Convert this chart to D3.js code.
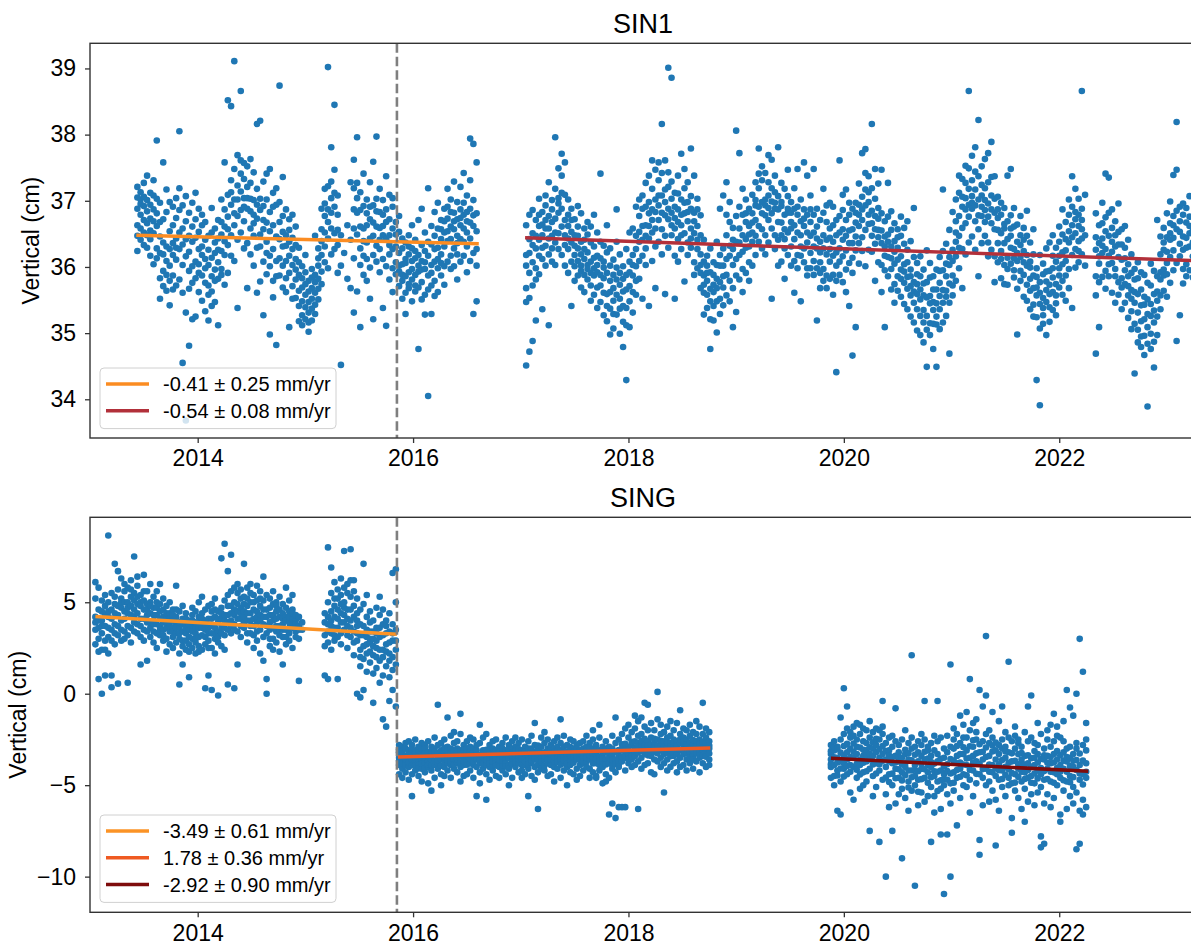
<!DOCTYPE html>
<html><head><meta charset="utf-8">
<script src="https://cdn.jsdelivr.net/npm/d3@7"></script>
<style>
body{margin:0;background:#fff}
svg{display:block}
text{font-family:"Liberation Sans",Arial,Helvetica,sans-serif;fill:#000}
</style>
</head><body><svg id="c" width="1191" height="945"></svg>
<script>
// ---------------- DATA (decimal year, then vertical values in cm) ----------------
const titles = ["SIN1", "SING"];
const xTickYears = [2014, 2016, 2018, 2020, 2022];
const sin1YTicks = [34, 35, 36, 37, 38, 39];
const singYTicks = [-10, -5, 0, 5];
const breakYear = 2015.85;

const sin1SegA = [
[2013.44,36.63,37.21,36.24,36.88,36.47,37.05],[2013.47,37.02,36.41,36.79,37.13,36.58,36.95],[2013.50,36.71,37.27,36.33,36.92,37.06,36.52],
[2013.53,36.48,37.01,36.84,37.38,36.66,36.29],[2013.56,36.42,36.17,37.12,36.73,36.94,36.55],[2013.59,37.31,36.87,36.51,36.04,36.69,37.08],
[2013.62,36.28,37.91,36.62,36.13,37.03,36.81],[2013.65,35.83,36.21,36.97,35.52,36.46,36.68],[2013.68,36.37,35.94,37.58,36.19,36.72,35.71],
[2013.71,36.09,35.64,36.83,36.31,37.17,35.88],[2013.74,35.79,36.54,36.02,36.98,35.42,36.27],[2013.77,36.91,36.18,35.87,36.63,36.36,35.66],
[2013.80,36.43,37.04,35.72,36.11,36.74,36.29],[2013.83,38.05,36.27,35.81,36.86,37.19,36.52],[2013.86,36.58,34.55,35.61,36.03,36.93,36.34],
[2013.89,35.31,36.16,36.69,33.68,37.07,36.42],[2013.92,34.81,35.94,36.47,36.23,36.82,35.67],[2013.95,35.21,36.38,36.97,36.01,36.61,35.76],
[2013.98,36.72,36.08,35.83,37.12,35.25,36.44],[2014.01,36.27,35.62,36.88,36.04,35.91,36.53],[2014.04,35.49,36.18,36.63,35.87,36.79,36.31],
[2014.07,35.98,35.33,35.76,36.41,36.68,36.12],[2014.10,35.72,36.26,35.19,36.03,35.58,36.47],[2014.13,35.86,36.52,35.63,36.14,36.89,35.41],
[2014.16,36.21,35.47,36.58,35.79,36.37,35.96],[2014.19,36.43,35.82,36.07,36.71,35.12,36.26],[2014.22,35.97,36.49,37.02,35.88,36.68,36.24],
[2014.25,36.61,35.73,37.58,36.18,36.87,36.39],[2014.28,38.52,36.33,37.09,36.76,35.91,36.57],[2014.31,38.43,36.94,37.31,36.48,36.17,37.13],
[2014.34,39.11,37.48,36.63,37.02,36.09,36.81],[2014.37,37.23,36.77,37.69,36.41,35.38,37.02],[2014.40,38.66,37.41,36.86,37.14,36.52,37.61],
[2014.43,37.57,36.69,37.04,36.28,37.33,36.91],[2014.46,36.88,37.52,36.36,37.21,35.68,37.04],[2014.49,37.03,36.58,37.63,36.19,37.27,36.84],
[2014.52,36.79,37.43,36.47,36.02,37.01,36.66],[2014.55,38.16,36.73,35.61,37.18,36.29,36.94],[2014.58,38.21,36.49,37.03,35.78,36.86,36.31],
[2014.61,36.57,37.29,36.08,35.27,36.92,36.71],[2014.64,36.38,37.02,35.89,36.67,36.21,37.41],[2014.67,36.17,36.83,37.48,36.01,34.98,36.54],
[2014.70,36.63,35.79,37.12,36.27,36.91,35.54],[2014.73,34.82,36.09,36.94,36.46,37.19,35.86],[2014.76,38.74,36.42,35.87,36.98,36.68,36.13],
[2014.79,36.02,36.77,36.31,37.36,35.69,36.53],[2014.82,36.48,35.62,36.87,36.09,36.32,35.83],[2014.85,35.91,36.38,36.72,35.09,36.17,36.56],
[2014.88,36.27,35.71,36.03,36.79,35.52,36.44],[2014.91,35.53,36.12,36.61,35.81,36.33,35.96],[2014.94,35.41,35.88,36.29,35.18,35.64,36.07],
[2014.97,35.27,35.69,36.01,35.48,35.12,35.83],[2015.00,35.58,35.21,35.92,36.18,35.39,35.74],[2015.03,35.02,35.47,35.79,35.31,35.63,35.16],
[2015.06,35.37,35.19,35.68,35.97,35.52,35.84],[2015.09,35.61,35.88,35.29,36.47,35.77,35.43],[2015.12,35.82,36.13,35.51,36.28,35.67,36.02],
[2015.15,36.18,36.57,35.93,36.88,36.39,35.74],[2015.18,36.52,36.96,36.07,36.77,36.31,37.18],[2015.21,39.02,36.68,37.22,36.43,35.98,36.87],
[2015.24,37.81,37.04,36.58,37.29,36.19,36.82],[2015.27,38.45,36.91,37.47,36.51,37.12,36.27],[2015.30,36.33,36.79,35.91,37.08,36.56],
[2015.33,34.52,36.02,36.48],[2015.36,36.21],[2015.39,36.63,35.82],[2015.42,37.28,36.41,35.68],
[2015.45,37.62,36.87,36.13,35.31,37.19,36.58],[2015.48,37.96,37.27,36.49,36.82,35.63,37.04],[2015.51,36.61,37.13,35.09,36.28,36.03,36.86],
[2015.54,36.92,36.17,37.41,36.58,35.88,36.39],[2015.57,36.37,36.81,35.79,37.02,36.12,36.63],[2015.60,36.72,35.99,37.28,35.52,36.43,36.91],
[2015.63,36.18,36.93,36.47,37.59,35.21,36.67],[2015.66,37.97,36.61,36.08,37.03,36.32,36.84],[2015.69,36.83,36.27,35.92,37.18,36.59,36.41],
[2015.72,36.48,37.01,35.38,36.12,36.79,36.62],[2015.75,36.87,36.42,37.37,36.01,35.11,36.68],[2015.78,36.19,36.72,35.81,37.09,36.48,36.33],
[2015.81,36.58,35.98,36.91,35.62,37.04,36.27],[2015.84,36.31,35.89,36.68,36.07,36.49],[2015.87,36.02,36.53,35.71,36.21,36.77,35.93],
[2015.90,35.79,36.28,35.52,36.04,36.43,35.88],[2015.93,36.12,35.61,36.37,35.86,35.29,36.06],[2015.96,35.68,36.19,35.92,36.48,35.74,36.31],
[2015.99,35.97,35.48,36.28,35.81,36.63,36.09],[2016.02,35.88,36.41,35.63,36.13,35.72,36.24],[2016.05,36.18,35.69,34.76,36.02,36.71,35.93],
[2016.08,35.77,36.33,36.88,35.51,36.09,35.96],[2016.11,36.07,35.58,36.52,35.97,35.28,36.24],[2016.14,34.05,36.38,35.87,37.19,36.17,35.66],
[2016.17,35.72,36.03,36.62,35.29,36.34,35.91],[2016.20,36.27,35.79,36.83,36.08,35.56,36.47],[2016.23,36.58,35.98,35.62,36.97,36.29,36.12],
[2016.26,36.19,36.71,35.87,36.42,36.06,36.57],[2016.29,36.52,36.01,36.88,35.73,36.31,36.69],[2016.32,37.18,36.39,36.73,36.08,36.91,36.54],
[2016.35,36.61,36.17,37.02,36.42,36.83,35.97],[2016.38,36.82,36.28,37.29,36.01,36.57,36.69],[2016.41,36.47,36.98,36.19,36.72,35.81,36.36],
[2016.44,37.21,36.63,36.08,36.87,36.42,36.74],[2016.47,36.38,36.79,37.42,36.17,36.58,36.97],[2016.50,36.69,37.08,36.31,35.92,36.52,36.83],
[2016.53,37.94,36.88,36.43,37.31,36.09,36.67],[2016.56,37.86,36.62,37.01,36.21,35.29,36.78],[2016.59,36.81,36.27,37.58,35.48,36.02,36.54]
];

const sin1SegB = [
[2017.05,34.51,35.68,36.18,36.63,36.02,35.47],[2017.08,34.72,35.91,36.42,36.79,35.53,36.21],[2017.11,34.88,36.07,36.51,35.72,36.33,36.86],
[2017.14,35.19,35.98,36.71,36.28,35.81,36.47],[2017.17,36.17,36.62,35.89,37.03,36.41,36.79],[2017.20,36.48,35.36,36.83,36.12,36.29,36.64],
[2017.23,36.32,36.93,36.02,36.58,37.08,36.71],[2017.26,35.12,36.43,36.77,36.19,37.28,36.58],[2017.29,36.68,36.08,37.01,36.47,36.87,36.28],
[2017.32,37.96,36.37,37.18,36.03,36.73,36.52],[2017.35,37.49,36.82,36.27,37.04,36.51,36.96],[2017.38,37.71,37.38,36.61,36.18,36.88,37.12],
[2017.41,37.58,36.48,37.09,36.02,36.71,36.33],[2017.44,36.79,36.27,35.91,36.62,37.02,36.43],[2017.47,36.53,35.41,36.88,36.08,36.37,36.71],
[2017.50,36.18,36.72,35.79,36.48,36.01,36.32],[2017.53,36.61,36.09,36.92,35.87,36.28,36.47],[2017.56,36.02,36.38,35.69,36.81,36.19,35.94],
[2017.59,36.27,35.88,36.58,36.12,35.62,36.41],[2017.62,35.81,36.49,36.03,36.68,36.22,35.97],[2017.65,36.37,35.72,36.08,35.49,36.61,35.91],
[2017.68,35.98,36.31,35.58,36.79,35.87,36.14],[2017.71,35.69,36.17,35.92,36.52,35.38,36.03],[2017.74,37.41,35.88,36.13,35.47,36.38,35.72],
[2017.77,35.61,35.99,35.27,36.32,35.83,36.08],[2017.80,35.91,35.18,36.22,35.59,36.63,35.41],[2017.83,35.37,35.79,36.02,34.98,36.28,35.62],
[2017.86,35.68,35.07,35.88,36.11,35.49,35.29],[2017.89,35.28,35.81,36.38,35.58,36.87,35.99],[2017.92,34.99,35.52,35.91,36.19,35.37,35.73],
[2017.95,34.79,35.63,35.17,36.01,35.82,35.41],[2017.98,34.29,35.38,35.88,36.27,35.66,35.12],[2018.01,35.09,35.71,36.08,35.48,36.52,35.92],
[2018.04,35.62,36.18,35.87,36.58,35.31,36.03],[2018.07,36.01,36.47,35.58,36.91,36.27,35.79],[2018.10,36.38,35.82,36.77,36.09,37.02,36.53],
[2018.13,36.62,36.17,37.08,35.52,36.88,36.41],[2018.16,36.28,36.91,36.03,37.27,36.63,36.47],[2018.19,36.81,36.43,36.98,35.41,37.38,36.62],
[2018.22,36.52,37.18,36.09,36.87,37.61,36.71],[2018.25,37.02,36.58,37.47,36.31,35.68,36.83],[2018.28,36.93,37.31,36.38,37.58,36.71,37.08],
[2018.31,38.16,37.08,36.57,37.42,36.19,36.82],[2018.34,36.98,36.47,37.61,36.78,35.59,37.17],[2018.37,39.01,36.72,37.21,36.29,36.88,37.43],
[2018.40,38.86,37.03,36.48,36.82,37.29,36.63],[2018.43,36.58,37.12,36.17,36.91,35.52,36.74],[2018.46,36.87,36.42,37.38,36.68,36.08,37.11],
[2018.49,37.71,36.63,37.02,36.27,36.79,36.48],[2018.52,36.51,37.19,36.81,35.78,37.48,36.97],[2018.55,36.98,36.37,37.28,36.69,36.18,36.83],
[2018.58,37.79,36.88,36.29,37.07,36.58,36.43],[2018.61,36.69,37.38,36.07,36.82,35.88,36.51],[2018.64,36.41,36.87,35.98,37.03,36.27,36.62],
[2018.67,36.03,36.48,35.68,36.19,36.78,35.91],[2018.70,35.61,36.08,35.87,35.28,36.41,35.73],[2018.73,35.79,35.38,36.02,35.58,36.17,35.91],
[2018.76,34.76,35.48,35.92,35.67,36.28,35.21],[2018.79,35.19,35.62,35.88,35.41,36.07,35.73],[2018.82,35.01,35.68,36.03,35.48,36.38,35.82],
[2018.85,35.77,35.52,36.18,36.88,35.29,36.02],[2018.88,35.42,36.02,35.69,37.08,36.28,35.86],[2018.91,35.88,36.12,37.28,35.57,36.48,36.79],
[2018.94,36.17,35.79,36.68,36.98,35.48,36.32],[2018.97,35.09,36.03,36.59,36.27,35.68,36.41],[2019.00,38.06,36.38,35.87,36.77,35.32,36.12],
[2019.03,37.72,36.18,35.81,36.58,36.91,36.37],[2019.06,36.48,35.97,36.79,35.62,37.18,36.23],[2019.09,36.29,36.68,35.91,36.42,37.02,36.81],
[2019.12,36.62,36.07,36.88,36.31,35.79,36.49],[2019.15,36.38,36.81,36.02,37.09,36.52,36.67],[2019.18,37.01,36.47,37.28,36.18,36.71,36.93],
[2019.21,37.79,36.91,36.38,37.19,36.62,37.41],[2019.24,37.52,36.98,36.57,36.28,37.31,36.81],[2019.27,36.78,37.42,36.48,37.02,36.19,36.93],
[2019.30,37.69,37.08,36.71,36.37,36.89,37.28],[2019.33,37.62,36.58,37.19,36.81,35.52,36.99],[2019.36,36.97,36.48,37.38,36.27,36.88,37.13],
[2019.39,37.81,36.68,37.07,36.41,36.02,36.87],[2019.42,36.92,37.27,36.48,36.08,36.98,36.67],[2019.45,36.57,37.18,36.28,35.82,36.79,36.42],
[2019.48,37.47,36.82,36.18,36.88,36.52,37.07],[2019.51,36.68,36.31,36.98,36.02,36.58,36.82],[2019.54,36.42,36.88,36.09,37.19,35.61,36.63],
[2019.57,36.79,36.18,37.48,36.52,35.98,36.91],[2019.60,36.48,37.02,36.17,36.69,35.48,36.31],[2019.63,37.58,36.62,36.07,36.87,36.28,36.73],
[2019.66,36.37,35.98,36.79,37.38,35.87,36.52],[2019.69,36.68,36.21,37.08,36.47,35.98,36.87],[2019.72,36.09,36.52,35.88,36.79,37.48,36.31],
[2019.75,36.28,35.19,36.61,35.98,36.88,36.43],[2019.78,35.91,36.38,36.07,35.68,36.71,36.22],[2019.81,36.48,35.97,36.82,35.79,37.18,36.28],
[2019.84,36.19,36.68,35.87,36.41,35.68,36.93],[2019.87,35.82,36.27,36.58,36.97,36.08,36.44],[2019.90,36.38,35.88,36.91,36.17,35.58,36.63],
[2019.93,34.41,36.02,36.48,35.79,36.71,36.22],[2019.96,37.61,36.28,36.77,35.88,36.08,36.52],[2019.99,36.57,37.09,36.16,36.86,35.77,36.41],
[2020.02,35.96,36.47,37.17,36.25,35.62,36.71],[2020.05,35.41,36.36,36.79,36.06,36.97,36.55],[2020.08,34.66,36.57,36.14,36.88,35.91,36.36],
[2020.11,36.25,36.97,36.67,35.09,36.46,36.82],[2020.14,36.79,36.36,37.26,36.05,36.62,36.94],[2020.17,37.72,36.87,36.45,37.06,36.24,36.71],
[2020.20,37.78,37.17,36.56,36.93,36.01,37.42],[2020.23,36.98,36.65,37.37,36.26,36.79,37.13],[2020.26,38.16,36.85,36.47,37.19,36.23,36.66],
[2020.29,37.48,36.77,36.35,37.03,35.79,36.57],[2020.32,36.56,37.26,36.07,36.89,36.45,36.73],[2020.35,37.47,36.36,36.81,36.03,35.62,36.55],
[2020.38,36.17,36.69,35.09,36.46,35.95,36.31],[2020.41,36.49,35.86,37.27,36.15,36.76,36.38],[2020.44,35.97,36.56,35.66,36.31,36.84,36.13],
[2020.47,36.39,35.74,36.05,36.66,35.46,36.23],[2020.50,35.86,36.29,36.57,35.64,36.11,36.45],[2020.53,36.16,35.55,36.47,35.96,36.76,35.82],
[2020.56,35.76,36.35,35.44,36.04,36.59,35.93],[2020.59,36.07,35.67,36.26,35.36,36.69,35.85],[2020.62,35.57,35.96,35.25,36.39,35.86,35.71],
[2020.65,36.89,35.77,35.46,36.15,35.16,35.63],[2020.68,35.36,35.89,35.04,36.06,35.59,35.74],[2020.71,34.97,35.66,36.16,35.26,35.86,35.51],
[2020.74,35.16,35.57,34.86,35.96,35.35,35.75],[2020.77,34.49,35.26,35.77,35.05,36.25,35.54],[2020.80,34.97,35.56,35.15,36.06,35.45,35.84],
[2020.83,34.76,35.35,35.86,35.14,35.66,35.47],[2020.86,34.49,35.25,35.66,35.96,35.45,35.13],[2020.89,35.06,35.76,35.36,36.15,35.56,35.94],
[2020.92,35.46,35.95,35.16,37.17,35.65,36.24],[2020.95,35.26,35.86,36.35,35.55,36.05,35.64],[2020.98,34.69,35.75,36.15,35.46,36.56,36.03],
[2021.01,35.87,36.26,35.57,36.83,36.09,35.72],[2021.04,36.16,36.69,35.79,36.38,37.02,36.52],[2021.07,36.47,37.12,35.98,36.77,37.38,36.29],
[2021.10,36.91,36.27,37.33,36.59,35.68,37.06],[2021.13,37.53,36.66,37.04,36.19,36.87,37.27],[2021.16,38.66,37.18,36.76,37.49,36.37,36.94],
[2021.19,36.97,37.68,36.46,36.88,37.31,37.07],[2021.22,37.81,36.69,37.17,36.26,36.93,37.44],[2021.25,38.22,37.37,36.57,37.02,35.86,36.78],
[2021.28,37.08,36.77,37.52,36.36,36.91,37.24],[2021.31,37.63,36.86,37.19,36.47,37.01,36.68],[2021.34,36.76,37.28,36.37,37.72,36.16,36.96],
[2021.37,37.89,36.66,37.08,36.26,36.87,37.36],[2021.40,36.57,37.03,36.16,37.37,35.77,36.82],[2021.43,36.87,36.36,37.06,36.07,36.56,36.74],
[2021.46,36.24,36.79,35.83,36.51,36.97,36.12],[2021.49,36.58,36.03,36.89,35.74,36.36,36.65],[2021.52,37.38,36.14,36.69,35.97,35.73,36.42],
[2021.55,37.48,36.47,36.05,36.78,36.29,36.58],[2021.58,35.95,36.61,35.84,36.27,36.89,36.13],[2021.61,36.38,34.98,36.64,36.09,35.67,36.21],
[2021.64,36.15,36.77,35.79,36.48,35.94,36.33],[2021.67,35.88,36.24,36.59,35.55,36.07,36.41],[2021.70,36.47,35.73,36.18,36.85,35.49,36.02],
[2021.73,35.99,36.37,35.64,36.08,35.36,35.82],[2021.76,35.68,36.19,35.43,35.87,36.57,35.25],[2021.79,34.29,35.57,35.98,35.24,35.85,35.69],
[2021.82,33.91,35.44,35.77,35.07,36.18,35.61],[2021.85,35.27,35.89,35.53,36.05,35.38,35.14],[2021.88,34.97,35.65,36.28,35.47,35.93,35.78],
[2021.91,35.59,35.17,35.94,35.73,36.37,35.39],[2021.94,35.84,35.35,36.17,35.62,36.48,35.98],[2021.97,35.45,36.08,35.74,36.29,35.27,35.57],
[2022.00,35.98,35.69,36.38,35.87,36.61,36.17],[2022.03,35.79,36.22,35.58,36.49,36.87,36.04],[2022.06,36.09,35.87,36.42,36.68,35.49,36.25],
[2022.09,36.37,35.97,36.79,35.68,37.02,36.54],[2022.12,36.63,36.18,35.38,36.91,37.37,36.45],[2022.15,36.27,36.72,35.99,37.18,36.51,36.83],
[2022.18,36.79,36.39,37.03,36.07,36.62,36.24],[2022.21,38.66,36.57,36.19,36.88,36.43,36.71],[2022.24,36.48,37.09,36.02],
[2022.34,35.57,36.26,36.81,35.86,34.69,36.45],[2022.37,36.05,36.63,35.09,36.36,35.77,36.16],[2022.40,36.43,35.85,36.97,36.21,36.66,36.32],
[2022.43,37.41,35.94,36.54,35.67,36.27,36.75],[2022.46,36.17,36.82,35.86,37.35,36.47,36.04],[2022.49,36.59,36.06,35.61,36.38,36.87,36.23],
[2022.52,35.86,36.31,35.46,36.69,35.97,36.48],[2022.55,36.15,35.77,36.53,35.58,36.96,36.34],[2022.58,35.69,36.34,35.83,36.11,35.36,36.57],
[2022.61,35.95,35.46,36.29,35.74,36.62,36.13],[2022.64,35.57,36.04,35.23,35.86,36.41,35.71],[2022.67,35.33,35.91,35.06,36.19,35.65,35.52],
[2022.70,34.39,35.46,35.81,35.14,35.97,35.62],[2022.73,35.05,35.59,34.86,36.07,35.31,35.83],[2022.76,35.42,34.79,35.66,34.95,35.92,35.18],
[2022.79,34.67,35.21,35.55,35.88,34.96,35.43],[2022.82,33.89,35.09,34.84,35.51,35.76,35.29],[2022.85,34.76,35.26,35.72,34.99,36.05,35.44],
[2022.88,34.48,35.16,35.59,35.34,35.94,34.87],[2022.91,34.97,35.49,35.86,36.71,35.25,35.63],[2022.94,35.36,35.81,36.19,35.57,36.46,35.92],
[2022.97,35.87,36.26,35.64,36.59,35.96,36.37],[2023.00,36.06,35.55,36.45,36.81,35.89,36.23],[2023.03,36.41,35.76,36.66,36.15,36.99,36.51],
[2023.06,37.39,36.25,35.95,36.77,36.44,36.63],[2023.09,38.19,36.57,36.06,37.47,34.88,36.85],[2023.12,36.35,36.91,36.16,35.27,36.69,36.53],
[2023.15,35.97,36.46,36.79,35.75,36.96,36.26],[2023.18,36.29,36.67,36.04,36.89,35.86,36.44],[2023.21,36.51,35.95,36.76,36.31,37.07,36.62],
[2023.24,36.16,36.59,35.84,36.37]
];

const singSegA = [
[2013.05,6.1,3.5,2.7,4.2,3.9,5.2],[2013.08,5.8,4.0,3.0,0.8,4.6,2.3,3.6],[2013.11,3.3,4.5,2.4,5.1,0.0,4.0,3.7],[2013.14,4.8,3.7,1.0,5.4,2.9,4.3,2.4],
[2013.17,8.65,4.2,3.1,5.0,2.2,3.6,4.5],[2013.20,1.0,4.6,3.5,5.5,0.35,4.1,2.9],[2013.23,7.1,4.9,3.8,2.7,5.3,4.4,3.3],[2013.26,6.7,4.3,5.7,3.2,0.55,4.8,3.7],
[2013.29,5.2,4.0,6.3,2.9,4.7,3.5,5.0],[2013.32,4.5,5.6,3.4,6.0,4.1,5.0,3.0],[2013.35,3.7,5.0,4.4,0.6,5.8,4.7,3.2],[2013.38,5.3,4.8,3.6,6.2,2.8,4.3,5.7],
[2013.41,7.5,4.6,5.5,3.9,4.2,3.4,5.1],[2013.44,4.9,3.3,5.9,4.4,6.4,3.8,5.3],[2013.47,5.4,4.1,1.6,3.7,4.8,5.0,3.1],[2013.50,6.5,4.6,3.5,5.1,2.9,4.1,5.6],
[2013.53,4.3,5.6,3.9,1.8,4.9,3.4,4.6],[2013.56,5.0,3.6,4.4,6.0,3.1,4.8,3.9],[2013.59,4.7,3.4,5.3,2.8,4.0,4.3,3.8],[2013.62,3.8,5.0,4.3,2.5,5.6,3.3,4.7],
[2013.65,4.5,3.2,4.9,3.7,6.0,4.1,3.5],[2013.68,3.9,4.6,2.9,5.2,3.5,4.2,3.2],[2013.71,4.2,3.0,4.8,3.6,2.3,3.9,4.4],[2013.74,3.4,4.4,2.7,5.0,3.9,3.7,4.1],
[2013.77,4.0,3.1,4.6,2.5,3.6,3.4,4.3],[2013.80,3.3,4.2,2.8,5.9,3.8,3.6,4.6],[2013.83,3.0,4.5,2.2,3.6,0.5,3.9,3.3],[2013.86,4.1,2.6,3.4,4.8,1.6,3.8,2.9],
[2013.89,2.9,3.8,4.4,2.4,3.3,3.6,4.1],[2013.92,3.5,2.7,4.0,0.9,3.1,3.8,2.3],[2013.95,4.3,3.0,2.5,3.7,4.7,3.4,4.0],[2013.98,2.8,3.9,3.3,4.5,2.2,3.6,3.0],
[2014.01,3.6,4.2,2.6,3.1,5.0,3.9,2.3],[2014.04,4.4,3.2,2.4,3.9,5.3,3.6,4.1],[2014.07,2.7,4.0,0.3,3.5,4.6,3.1,3.8],[2014.10,3.3,4.8,2.9,4.1,1.0,3.6,2.5],
[2014.13,4.5,2.5,3.7,0.2,4.9,3.3,4.1],[2014.16,3.0,4.2,3.6,2.2,5.2,4.6,3.3],[2014.19,3.9,-0.1,4.5,2.8,3.4,4.1,3.1],[2014.22,7.4,3.6,4.7,2.6,4.1,3.3,4.4],
[2014.25,8.2,4.3,3.2,5.1,2.4,4.0,3.6],[2014.28,6.7,4.8,3.5,5.4,0.5,4.3,3.9],[2014.31,7.6,4.0,5.6,3.3,4.4,4.8,3.7],[2014.34,5.0,3.8,5.8,0.3,4.6,4.3,3.5],
[2014.37,4.5,5.5,3.4,6.0,1.6,4.9,4.1],[2014.40,5.2,4.1,3.1,5.7,4.7,3.7,4.4],[2014.43,7.1,4.9,3.6,5.3,4.2,4.5,3.9],[2014.46,4.4,5.8,3.3,4.8,2.8,4.0,5.2],
[2014.49,5.5,4.0,6.0,3.7,5.0,4.4,3.3],[2014.52,4.6,3.2,5.4,4.1,2.5,5.0,3.7],[2014.55,5.1,3.9,4.5,2.9,5.9,4.2,3.4],[2014.58,4.3,5.6,3.5,4.8,2.2,4.0,5.2],
[2014.61,6.4,3.8,4.6,1.8,5.1,4.2,3.1],[2014.64,0.0,4.2,3.3,5.4,0.8,3.7,4.6],[2014.67,4.7,3.0,5.2,2.6,3.9,4.3,3.5],[2014.70,3.6,4.9,2.4,4.3,5.6,4.0,3.0],
[2014.73,4.1,3.4,5.0,2.8,4.5,3.7,4.8],[2014.76,3.7,4.6,2.3,5.3,3.2,4.2,3.5],[2014.79,4.4,3.1,4.9,1.6,3.8,4.1,3.5],[2014.82,5.8,3.5,4.2,2.7,4.7,4.0,3.1],
[2014.85,3.9,4.5,2.9,5.1,3.3,4.2,3.6],[2014.88,4.6,3.6,5.4,2.5,4.1,3.9,4.4],[2014.91,3.4,4.0,3.1,4.3,3.8],[2014.94,3.7,0.7,4.2,3.0,3.5],
[2014.97,3.5,3.9],
[2015.18,1.0,3.2,4.4,2.6,3.9],[2015.21,8.0,3.8,2.8,5.0,0.8,4.2,3.4],[2015.24,6.9,4.5,3.3,5.5,2.4,4.0,3.7],[2015.27,5.2,3.6,4.8,2.9,6.1,4.2,3.2],
[2015.30,4.1,5.7,3.1,4.6,0.8,3.6,5.2],[2015.33,5.4,3.9,6.3,2.7,4.9,4.4,3.3],[2015.36,7.8,5.0,3.5,5.8,4.3,4.7,3.9],[2015.39,6.0,4.6,5.5,3.2,2.5,4.1,3.7],
[2015.42,7.9,5.3,4.0,6.2,3.6,4.6,3.1],[2015.45,6.2,4.8,3.4,5.6,2.1,4.2,2.8],[2015.48,0.0,4.4,2.9,5.2,3.7,3.3,4.0],[2015.51,-0.2,3.8,2.4,4.6,1.5,3.2,2.0],
[2015.54,7.1,3.2,4.9,1.9,0.2,3.7,2.6],[2015.57,4.2,2.7,5.4,3.5,1.2,3.1,2.2],[2015.60,3.0,4.5,1.7,3.9,2.3,3.4,2.8],[2015.63,2.6,4.0,1.1,3.4,-0.5,2.1,3.0],
[2015.66,3.6,2.0,4.7,1.4,2.9,3.3,2.5],[2015.69,5.3,3.1,1.8,4.3,0.6,3.6,2.4],[2015.72,2.4,3.8,1.0,4.6,-1.4,3.2,2.0],[2015.75,4.0,1.5,3.3,-1.8,2.7,2.3,3.7],
[2015.78,3.4,0.9,2.2,4.4,-0.4,2.8,1.8],[2015.81,6.6,2.9,1.3,3.8,0.2,3.3,2.0],[2015.84,6.8,3.5,-0.7,2.4,5.0,1.6,2.9]
];

const singSegB = [
[2015.87,-3.2,-3.9,-2.8,-4.4,-3.5,-3.05,-3.67],[2015.90,-3.6,-2.9,-4.1,-3.3,-4.6,-3.82,-3.14],[2015.93,-3.0,-3.8,-4.3,-2.7,-3.4,-3.57,-3.93],
[2015.96,-3.5,-4.0,-3.1,-4.7,-2.6,-3.28,-3.76],[2015.99,-3.9,-3.3,-4.4,-2.8,-5.6,-3.61,-3.07],[2016.02,-3.1,-3.7,-2.5,-4.2,-3.4,-3.92,-3.23],
[2016.05,-4.5,-3.6,-2.9,-3.9,-3.2,-3.45,-4.08],[2016.08,-3.3,-4.1,-2.7,-3.6,-4.8,-3.83,-3.02],[2016.11,-2.8,-3.5,-4.3,-3.0,-3.8,-3.27,-4.06],
[2016.14,-3.7,-4.9,-3.2,-2.6,-4.0,-3.46,-3.88],[2016.17,-5.3,-3.4,-4.2,-2.9,-3.6,-3.13,-3.91],[2016.20,-3.0,-3.9,-4.6,-3.3,-2.4,-3.68,-3.19],
[2016.23,-0.6,-3.5,-4.1,-2.8,-3.8,-3.24,-3.63],[2016.26,-3.6,-2.7,-4.4,-3.1,-5.0,-3.37,-3.94],[2016.29,-3.2,-4.0,-2.5,-3.7,-4.5,-3.46,-2.96],
[2016.32,-2.9,-3.4,-1.3,-4.2,-3.8,-3.62,-3.13],[2016.35,-3.5,-4.6,-3.0,-2.3,-3.9,-3.27,-3.74],[2016.38,-4.1,-3.3,-2.1,-2.7,-3.6,-3.86,-3.08],
[2016.41,-3.0,-3.8,-4.3,-2.6,-3.4,-3.58,-3.17],[2016.44,-1.1,-4.8,-3.1,-2.2,-4.0,-3.43,-3.76],[2016.47,-3.3,-2.8,-3.9,-4.5,-3.5,-3.07,-3.69],
[2016.50,-4.4,-3.7,-2.6,-3.0,-3.2,-3.88,-3.41],[2016.53,-2.4,-3.4,-4.2,-2.9,-3.8,-3.16,-3.57],[2016.56,-3.9,-3.0,-4.6,-2.5,-3.5,-3.26,-3.72],
[2016.59,-5.6,-3.6,-4.0,-2.8,-3.3,-3.47,-3.09],[2016.62,-1.7,-4.3,-2.7,-3.8,-4.9,-3.34,-3.61],[2016.65,-3.7,-2.4,-4.1,-3.1,-3.5,-3.86,-3.28],
[2016.68,-5.8,-3.9,-4.4,-3.4,-2.2,-3.07,-3.63],[2016.71,-4.0,-3.3,-2.8,-4.7,-3.6,-3.14,-3.82],[2016.74,-3.5,-2.6,-4.2,-3.0,-3.9,-3.36,-3.71],
[2016.77,-3.1,-4.5,-3.7,-2.5,-3.3,-3.52,-3.93],[2016.80,-3.8,-2.9,-4.0,-3.4,-4.6,-3.17,-3.59],[2016.83,-3.3,-4.2,-2.7,-3.9,-3.0,-3.48,-3.66],
[2016.86,-2.4,-3.6,-4.4,-3.1,-3.8,-3.29,-3.97],[2016.89,-3.9,-3.2,-2.8,-4.1,-5.0,-3.51,-3.06],[2016.92,-3.4,-4.6,-3.0,-2.6,-3.7,-3.23,-3.86],
[2016.95,-2.4,-3.5,-4.0,-2.9,-3.3,-3.74,-3.12],[2016.98,-3.8,-2.7,-4.3,-3.2,-3.6,-3.41,-3.03],[2017.01,-4.6,-3.1,-3.9,-2.5,-4.2,-3.56,-3.27],
[2017.04,-3.6,-4.4,-2.9,-3.3,-3.9,-3.18,-3.73],[2017.07,-5.6,-3.4,-4.1,-2.6,-3.0,-3.62,-3.84],[2017.10,-3.0,-3.8,-2.3,-4.5,-3.5,-3.26,-3.67],
[2017.13,-1.6,-2.8,-4.0,-3.2,-4.7,-3.43,-3.58],[2017.16,-6.3,-3.3,-3.9,-4.3,-3.0,-3.66,-2.84],[2017.19,-3.9,-2.9,-3.5,-2.4,-4.1,-3.22,-3.74],
[2017.22,-2.1,-3.2,-4.2,-2.7,-3.6,-3.41,-3.93],[2017.25,-3.5,-4.5,-3.0,-3.8,-2.5,-3.27,-3.61],[2017.28,-2.8,-3.6,-4.4,-3.1,-3.9,-3.34,-2.97],
[2017.31,-4.0,-3.0,-2.6,-3.7,-4.8,-3.46,-3.19],[2017.34,-3.3,-2.4,-4.1,-3.5,-2.9,-3.73,-3.12],[2017.37,-1.4,-4.6,-3.1,-2.7,-3.4,-3.58,-3.88],
[2017.40,-2.9,-3.8,-4.2,-3.2,-2.3,-3.47,-3.64],[2017.43,-3.4,-4.0,-2.8,-3.6,-5.0,-3.16,-3.83],[2017.46,-4.3,-3.1,-3.7,-2.5,-3.9,-3.36,-2.92],
[2017.49,-3.0,-3.5,-2.6,-4.4,-3.3,-3.77,-3.18],[2017.52,-3.6,-4.1,-3.2,-2.8,-4.7,-3.42,-3.03],[2017.55,-2.7,-3.9,-3.4,-4.5,-3.1,-3.63,-3.26],
[2017.58,-3.8,-3.0,-4.2,-2.6,-3.5,-3.24,-3.71],[2017.61,-2.3,-3.3,-4.0,-2.9,-3.7,-3.52,-3.14],[2017.64,-3.2,-4.6,-2.7,-3.6,-4.1,-3.38,-2.94],
[2017.67,-2.0,-3.5,-2.5,-4.3,-3.0,-3.27,-3.81],[2017.70,-4.6,-3.8,-2.8,-4.5,-3.3,-3.06,-3.57],[2017.73,-1.7,-3.1,-3.9,-2.4,-4.2,-3.46,-3.68],
[2017.76,-4.0,-3.4,-4.9,-2.9,-3.7,-3.18,-3.56],[2017.79,-3.6,-4.8,-2.6,-4.4,-3.2,-3.87,-3.03],[2017.82,-6.6,-3.8,-2.9,-3.3,-4.6,-3.52,-3.14],
[2017.85,-6.0,-2.3,-4.1,-3.0,-3.9,-3.36,-3.62],[2017.88,-1.3,-6.8,-2.7,-3.6,-4.3,-3.17,-3.84],[2017.91,-6.2,-3.9,-2.5,-4.0,-3.4,-3.08,-3.66],
[2017.94,-3.1,-3.0,-2.2,-3.7,-6.2,-3.43,-2.76],[2017.97,-6.2,-3.5,-1.9,-4.2,-3.1,-2.74,-3.38],[2018.00,-3.3,-2.4,-3.8,-1.7,-2.9,-3.06,-3.57],
[2018.03,-2.1,-3.6,-2.8,-4.0,-3.2,-2.63,-3.41],[2018.06,-1.2,-2.6,-3.4,-1.9,-3.9,-2.97,-3.18],[2018.09,-6.3,-2.3,-3.7,-1.5,-2.7,-3.22,-2.88],
[2018.12,-1.3,-2.9,-3.5,-2.2,-4.1,-3.12,-2.58],[2018.15,-0.5,-3.3,-1.8,-3.9,-2.8,-2.46,-3.07],[2018.18,-0.6,-2.0,-3.1,-3.8,-2.6,-3.37,-2.83],
[2018.21,-3.4,-2.4,-1.6,-3.0,-4.3,-2.78,-3.16],[2018.24,-2.7,-3.6,-2.0,-4.4,-3.2,-2.47,-2.93],[2018.27,0.1,-3.0,-2.5,-3.7,-1.4,-2.84,-3.26],
[2018.30,-3.5,-2.2,-4.0,-2.8,-1.7,-3.08,-2.57],[2018.33,-5.4,-2.6,-3.3,-2.1,-3.8,-2.92,-3.14],[2018.36,-2.9,-3.6,-1.8,-2.4,-4.2,-3.23,-2.68],
[2018.39,-2.3,-3.1,-4.0,-2.7,-1.5,-3.42,-2.87],[2018.42,-3.4,-2.0,-2.9,-3.8,-2.5,-3.13,-2.66],[2018.45,-2.6,-3.7,-1.6,-3.0,-4.3,-2.83,-3.31],
[2018.48,-0.9,-2.2,-3.5,-2.7,-4.0,-3.07,-2.49],[2018.51,-1.9,-2.8,-3.9,-2.4,-3.3,-3.04,-2.61],[2018.54,-2.5,-3.6,-2.0,-4.2,-3.0,-2.76,-3.27],
[2018.57,-3.2,-1.7,-2.7,-3.8,-2.3,-2.96,-3.47],[2018.60,-2.8,-3.4,-2.1,-4.1,-3.6,-2.53,-3.11],[2018.63,-2.2,-3.0,-1.5,-3.7,-2.6,-3.24,-2.87],
[2018.66,-3.5,-2.5,-4.3,-1.8,-3.1,-2.74,-3.36],[2018.69,-0.5,-2.9,-3.8,-2.2,-3.4,-3.06,-2.63],[2018.72,-2.4,-3.2,-1.9,-4.0,-2.7,-2.98,-3.44],
[2018.75,-3.0,-2.1,-3.6,-2.6,-3.9,-3.27,-2.84]
];

const singSegC = [
[2019.88,-3.3,-2.8,-4.0,-3.6,-4.6,-3.14,-3.85],[2019.91,-2.6,-3.9,-3.1,-4.5,-5.0,-3.47,-2.93],[2019.94,-6.4,-3.5,-2.9,-4.2,-3.0,-3.76,-4.47],
[2019.97,-1.3,-6.6,-3.7,-2.5,-4.8,-3.22,-4.09],[2020.00,0.3,-3.4,-2.2,-4.1,-3.8,-2.86,-4.53],[2020.03,-0.7,-3.2,-1.9,-4.4,-3.6,-2.74,-3.95],
[2020.06,-3.9,-2.4,-3.0,-5.4,-2.1,-3.46,-4.27],[2020.09,-2.3,-3.5,-1.8,-4.0,-5.8,-3.17,-2.72],[2020.12,-2.9,-1.6,-3.3,-4.6,-2.5,-3.83,-4.16],
[2020.15,-3.6,-2.2,-1.7,-3.9,-5.2,-2.94,-4.41],[2020.18,-2.6,-3.4,-1.9,-4.3,-5.0,-3.07,-3.77],[2020.21,-2.0,-3.1,-4.8,-2.7,-3.7,-3.36,-4.24],
[2020.24,-7.5,-2.4,-3.6,-1.5,-4.1,-2.93,-3.28],[2020.27,-3.0,-2.1,-4.5,-3.4,-5.6,-2.66,-3.87],[2020.30,-2.8,-3.8,-1.9,-5.1,-3.2,-4.36,-2.47],
[2020.33,-8.1,-2.5,-4.2,-3.5,-2.0,-3.04,-3.86],[2020.36,-0.4,-2.2,-3.3,-4.7,-1.8,-3.67,-2.86],[2020.39,-10.0,-2.7,-3.6,-5.5,-4.0,-3.13,-4.58],
[2020.42,-3.1,-2.4,-4.4,-3.7,-6.2,-3.38,-4.83],[2020.45,-7.5,-2.9,-3.8,-5.0,-2.3,-3.46,-4.37],[2020.48,-0.8,-3.4,-2.6,-4.1,-6.0,-3.76,-4.62],
[2020.51,-3.7,-2.8,-4.6,-3.2,-5.5,-4.13,-3.47],[2020.54,-9.0,-3.5,-4.3,-2.5,-5.2,-3.86,-4.74],[2020.57,-2.0,-3.3,-4.0,-5.7,-3.8,-4.46,-3.07],
[2020.60,-3.6,-2.7,-4.8,-6.4,-4.2,-3.26,-5.13],[2020.63,2.1,-3.0,-4.2,-2.4,-5.3,-3.64,-4.57],[2020.66,-10.5,-3.9,-4.5,-2.9,-5.0,-3.34,-4.16],
[2020.69,-3.2,-4.7,-3.7,-2.6,-6.1,-4.24,-5.36],[2020.72,-2.2,-4.1,-3.4,-5.4,-2.8,-3.83,-4.67],[2020.75,-0.4,-3.6,-4.6,-2.5,-5.9,-4.13,-3.17],
[2020.78,-3.1,-3.9,-4.3,-2.9,-5.6,-4.87,-3.54],[2020.81,-8.1,-3.4,-5.1,-2.7,-4.0,-3.73,-4.56],[2020.84,-4.5,-3.1,-5.6,-2.3,-6.5,-3.82,-4.24],
[2020.87,-0.4,-3.7,-2.6,-4.8,-3.3,-4.27,-5.32],[2020.90,-7.7,-5.2,-2.4,-4.2,-6.3,-3.56,-4.73],[2020.93,-10.95,-4.4,-3.5,-5.0,-3.0,-3.96,-4.67],
[2020.96,-7.7,-3.2,-5.5,-2.3,-4.7,-3.86,-4.23],[2020.99,1.6,-10.0,-4.9,-2.9,-6.0,-3.57,-4.36],[2021.02,-1.9,-3.0,-4.3,-2.5,-5.3,-3.66,-4.87],
[2021.05,-7.2,-3.8,-2.2,-4.6,-3.4,-4.17,-2.86],[2021.08,-1.2,-2.7,-4.1,-5.7,-3.3,-3.76,-4.54],[2021.11,-2.4,-3.3,-1.7,-4.4,-5.0,-3.87,-2.93],
[2021.14,-1.0,-2.4,-3.9,-5.1,-3.1,-3.54,-4.46],[2021.17,0.8,-3.5,-2.0,-4.7,-6.5,-2.87,-4.16],[2021.20,-2.9,-1.6,-4.2,-3.4,-5.6,-3.76,-2.54],
[2021.23,-1.4,-2.5,-3.7,-4.9,-2.1,-3.26,-4.38],[2021.26,0.2,-8.8,-8.0,-4.4,-3.2,-2.76,-3.83],[2021.29,-0.7,-3.6,-2.6,-4.6,-6.1,-3.17,-4.12],
[2021.32,3.15,-0.1,-4.1,-2.2,-5.0,-3.46,-2.94],[2021.35,-2.0,-3.4,-4.8,-2.7,-5.9,-3.87,-4.26],[2021.38,-1.0,-3.9,-2.4,-5.3,-4.3,-3.16,-2.83],
[2021.41,-8.3,-4.5,-3.1,-5.8,-3.6,-4.07,-2.67],[2021.44,-1.5,-3.3,-4.7,-2.8,-6.4,-3.86,-4.18],[2021.47,-0.7,-2.5,-5.1,-4.2,-3.0,-3.63,-4.66],
[2021.50,-2.1,-4.0,-2.9,-5.6,-3.5,-4.43,-3.16],[2021.53,1.75,-3.2,-4.6,-2.4,-5.0,-3.77,-4.13],[2021.56,-7.6,-3.7,-2.6,-4.9,-6.8,-3.26,-4.34],
[2021.59,-1.8,-3.0,-4.4,-5.3,-2.3,-3.67,-4.86],[2021.62,-2.5,-4.1,-3.3,-2.7,-5.7,-3.86,-4.54],[2021.65,-3.8,-3.6,-4.8,-2.9,-6.3,-4.27,-3.24],
[2021.68,-2.1,-4.3,-3.4,-5.2,-7.0,-3.87,-4.66],[2021.71,-0.7,-3.8,-4.6,-2.6,-5.9,-4.17,-3.36],[2021.74,-0.1,-4.0,-2.4,-5.5,-4.5,-3.53,-4.87],
[2021.77,-2.7,-3.5,-4.9,-6.1,-3.9,-4.36,-3.13],[2021.80,-1.6,-4.2,-3.3,-2.8,-5.4,-3.76,-4.63],[2021.83,-8.4,-7.8,-4.4,-2.2,-5.1,-3.57,-4.06],
[2021.86,-8.2,-3.0,-4.7,-3.6,-6.0,-4.23,-3.37],[2021.89,-2.0,-2.5,-4.1,-3.4,-5.5,-3.77,-4.66],[2021.92,-1.7,-2.9,-3.8,-4.8,-6.2,-4.27,-3.46],
[2021.95,-1.1,-3.3,-4.3,-5.7,-2.6,-3.76,-4.87],[2021.98,-2.3,-1.8,-3.6,-5.0,-4.4,-3.13,-4.06],[2022.01,-7.0,-2.4,-3.9,-4.6,-6.6,-3.37,-4.27],
[2022.04,-1.5,-3.2,-2.6,-5.3,-4.1,-3.66,-4.73],[2022.07,0.2,-3.7,-4.8,-6.3,-3.0,-4.26,-3.46],[2022.10,-0.75,-2.9,-4.5,-3.5,-5.6,-3.96,-4.84],
[2022.13,-1.2,-3.3,-5.1,-4.0,-6.0,-3.67,-4.56],[2022.16,0.0,-8.5,-3.0,-5.4,-2.7,-4.17,-3.63],[2022.19,3.0,-8.2,-4.7,-6.4,-3.9,-4.36,-3.27],
[2022.22,1.2,-6.6,-5.8,-4.4,-2.8,-3.66,-4.96],[2022.25,-3.1,-4.6,-2.5,-6.2,-3.8,-1.6,-4.27]
];

// linear fits: [startYear, endYear, startValue, endValue]
const sin1Fits = [[2013.43, 2016.61, 36.48, 36.35], [2017.04, 2023.35, 36.44, 36.09]];
const singFits = [[2013.05, 2015.85, 4.22, 3.25], [2015.86, 2018.76, -3.46, -2.97], [2019.88, 2022.27, -3.53, -4.24]];
const sin1Labels = ["-0.41 \u00b1 0.25 mm/yr", "-0.54 \u00b1 0.08 mm/yr"];
const singLabels = ["-3.49 \u00b1 0.61 mm/yr", "1.78 \u00b1 0.36 mm/yr", "-2.92 \u00b1 0.90 mm/yr"];
const sin1Colors = ["#fb8c22", "#b2303a"];
const singColors = ["#fb9326", "#ef5a22", "#7e0c0c"];

// ---------------- DRAW ----------------
const svg = d3.select("#c");
const pointColor = "#1f77b4";
const plotLeft = 90, plotRight = 1196;

function flatten(rows){ return rows.flatMap(r => r.slice(1).map(v => ({t: r[0], v}))); }

function drawPanel(cfg, idx){
  const x = d3.scaleLinear().domain([2013.0, 2023.27]).range([plotLeft, plotRight]);
  const y = d3.scaleLinear().domain(cfg.yDomain).range([cfg.bottom, cfg.top]);
  const g = svg.append("g");
  const clipId = "clip" + idx;
  g.append("clipPath").attr("id", clipId).append("rect")
    .attr("x", plotLeft).attr("y", cfg.top).attr("width", plotRight - plotLeft).attr("height", cfg.bottom - cfg.top);
  g.append("rect").attr("x", plotLeft).attr("y", cfg.top).attr("width", plotRight - plotLeft).attr("height", cfg.bottom - cfg.top)
    .attr("fill", "#fff");

  const inner = g.append("g").attr("clip-path", `url(#${clipId})`);
  const pts = cfg.segments.flatMap(flatten);
  inner.selectAll("circle").data(pts).enter().append("circle")
    .attr("cx", d => x(d.t)).attr("cy", d => y(d.v)).attr("r", 3.3).attr("fill", pointColor);

  cfg.fits.forEach((f, i) => {
    inner.append("line").attr("x1", x(f[0])).attr("x2", x(f[1])).attr("y1", y(f[2])).attr("y2", y(f[3]))
      .attr("stroke", cfg.colors[i]).attr("stroke-width", 3.5);
  });
  inner.append("line").attr("x1", x(breakYear)).attr("x2", x(breakYear)).attr("y1", cfg.top).attr("y2", cfg.bottom)
    .attr("stroke", "#7f7f7f").attr("stroke-width", 2.6).attr("stroke-dasharray", "9.5,4");

  g.append("rect").attr("x", plotLeft).attr("y", cfg.top).attr("width", plotRight - plotLeft).attr("height", cfg.bottom - cfg.top)
    .attr("fill", "none").attr("stroke", "#333").attr("stroke-width", 1.4);

  const xa = g.append("g").attr("transform", `translate(0,${cfg.bottom})`)
    .call(d3.axisBottom(x).tickValues(xTickYears).tickFormat(d3.format("d")).tickSize(5).tickPadding(7));
  const ya = g.append("g").attr("transform", `translate(${plotLeft},0)`)
    .call(d3.axisLeft(y).tickValues(cfg.yTicks).tickFormat(d => d < 0 ? "\u2212" + Math.abs(d) : String(d)).tickSize(5).tickPadding(9));
  [xa, ya].forEach(a => {
    a.select(".domain").remove();
    a.selectAll("line").attr("stroke", "#333").attr("stroke-width", 1.3);
    a.selectAll("text").attr("font-size", 23).attr("fill", "#000").style("font-family", '"Liberation Sans", Arial, sans-serif');
  });

  g.append("text").attr("x", 643).attr("y", cfg.titleY).attr("text-anchor", "middle").attr("font-size", 27).text(cfg.title);
  g.append("text").attr("transform", `translate(${cfg.ylabelX},${(cfg.top + cfg.bottom) / 2}) rotate(-90)`)
    .attr("text-anchor", "middle").attr("font-size", 23).text("Vertical (cm)");

  const lg = g.append("g");
  lg.append("rect").attr("x", 100).attr("y", cfg.legendY).attr("width", 236).attr("height", cfg.labels.length * 26.8 + 7)
    .attr("rx", 4).attr("fill", "#fff").attr("fill-opacity", 0.8).attr("stroke", "#d0d0d0").attr("stroke-width", 1);
  cfg.labels.forEach((lab, i) => {
    const yy = cfg.legendY + 16 + i * 26.8;
    lg.append("line").attr("x1", 106).attr("x2", 149).attr("y1", yy).attr("y2", yy)
      .attr("stroke", cfg.colors[i]).attr("stroke-width", 3.5);
    lg.append("text").attr("x", 163).attr("y", yy).attr("dy", "0.36em").attr("font-size", 20).text(lab);
  });
}

drawPanel({title: titles[0], titleY: 33, top: 43.3, bottom: 438, yDomain: [33.415, 39.38], yTicks: sin1YTicks,
  segments: [sin1SegA, sin1SegB], fits: sin1Fits, colors: sin1Colors, labels: sin1Labels, legendY: 368, ylabelX: 39}, 0);
drawPanel({title: titles[1], titleY: 507, top: 517.3, bottom: 912.3, yDomain: [-11.95, 9.645], yTicks: singYTicks,
  segments: [singSegA, singSegB, singSegC], fits: singFits, colors: singColors, labels: singLabels, legendY: 815, ylabelX: 26}, 1);
</script>
</body></html>
